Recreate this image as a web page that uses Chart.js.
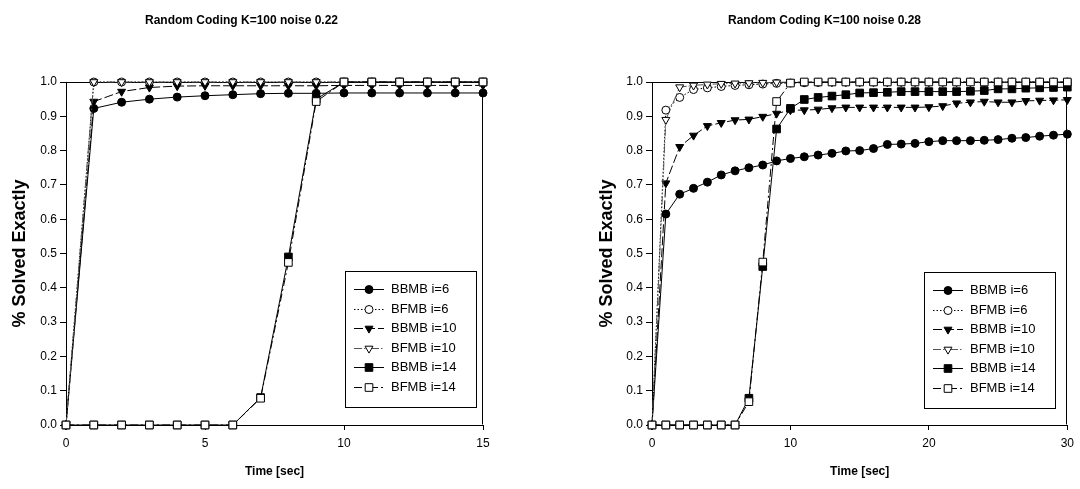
<!DOCTYPE html>
<html>
<head>
<meta charset="utf-8">
<script src="https://cdn.jsdelivr.net/npm/chart.js@4.4.1/dist/chart.umd.min.js"></script>
<style>
html,body{margin:0;padding:0;background:#fff;}
#wrap{position:relative;width:1080px;height:489px;overflow:hidden;}
.c{position:absolute;top:0;width:540px;height:489px;}
</style>
</head>
<body>
<div id="wrap">
  <div class="c" style="left:0"><canvas id="c1" width="540" height="489"></canvas></div>
  <div class="c" style="left:540px"><canvas id="c2" width="540" height="489"></canvas></div>
</div>
<script>
// ---------------- DATA ----------------
const seriesNames = ["BBMB i=6", "BFMB i=6", "BBMB i=10", "BFMB i=10", "BBMB i=14", "BFMB i=14"];
const yAxisTitle = "% Solved Exactly";
const xAxisTitle = "Time [sec]";

// Left panel: noise 0.22
const titleLeft = "Random Coding K=100 noise 0.22";
const timeLeft = [0, 1, 2, 3, 4, 5, 6, 7, 8, 9, 10, 11, 12, 13, 14, 15];
const bbmb6Left  = [0, 0.923, 0.941, 0.950, 0.956, 0.960, 0.963, 0.966, 0.967, 0.967, 0.968, 0.968, 0.968, 0.968, 0.968, 0.968];
const bfmb6Left  = [0, 1, 1, 1, 1, 1, 1, 1, 1, 1, 1, 1, 1, 1, 1, 1];
const bbmb10Left = [0, 0.943, 0.972, 0.984, 0.988, 0.989, 0.989, 0.989, 0.989, 0.989, 0.990, 0.990, 0.990, 0.990, 0.990, 0.990];
const bfmb10Left = [0, 1, 1, 1, 1, 1, 1, 1, 1, 1, 1, 1, 1, 1, 1, 1];
const bbmb14Left = [0, 0, 0, 0, 0, 0, 0, 0.080, 0.490, 0.950, 1, 1, 1, 1, 1, 1];
const bfmb14Left = [0, 0, 0, 0, 0, 0, 0, 0.078, 0.474, 0.943, 1, 1, 1, 1, 1, 1];
const xTicksLeft = [0, 5, 10, 15];

// Right panel: noise 0.28
const titleRight = "Random Coding K=100 noise 0.28";
const timeRight = [0, 1, 2, 3, 4, 5, 6, 7, 8, 9, 10, 11, 12, 13, 14, 15, 16, 17, 18, 19, 20, 21, 22, 23, 24, 25, 26, 27, 28, 29, 30];
const bbmb6Right  = [0, 0.615, 0.673, 0.690, 0.708, 0.729, 0.741, 0.750, 0.758, 0.770, 0.777, 0.782, 0.787, 0.792, 0.799, 0.800, 0.806, 0.818, 0.819, 0.821, 0.826, 0.829, 0.829, 0.829, 0.830, 0.832, 0.836, 0.838, 0.842, 0.845, 0.848];
const bfmb6Right  = [0, 0.918, 0.955, 0.978, 0.983, 0.987, 0.990, 0.992, 0.994, 0.996, 0.997, 0.998, 0.999, 1, 1, 1, 1, 1, 1, 1, 1, 1, 1, 1, 1, 1, 1, 1, 1, 1, 1];
const bbmb10Right = [0, 0.705, 0.811, 0.844, 0.872, 0.881, 0.889, 0.891, 0.899, 0.908, 0.918, 0.918, 0.920, 0.924, 0.926, 0.926, 0.926, 0.926, 0.926, 0.926, 0.927, 0.930, 0.938, 0.941, 0.943, 0.941, 0.941, 0.945, 0.946, 0.947, 0.948];
const bfmb10Right = [0, 0.890, 0.985, 0.990, 0.993, 0.995, 0.996, 0.997, 0.998, 0.999, 1, 1, 1, 1, 1, 1, 1, 1, 1, 1, 1, 1, 1, 1, 1, 1, 1, 1, 1, 1, 1];
const bbmb14Right = [0, 0, 0, 0, 0, 0, 0, 0.078, 0.462, 0.863, 0.923, 0.949, 0.955, 0.959, 0.963, 0.968, 0.969, 0.970, 0.972, 0.972, 0.972, 0.972, 0.972, 0.973, 0.975, 0.980, 0.980, 0.982, 0.983, 0.984, 0.985];
const bfmb14Right = [0, 0, 0, 0, 0, 0, 0, 0.068, 0.475, 0.943, 0.997, 1, 1, 1, 1, 1, 1, 1, 1, 1, 1, 1, 1, 1, 1, 1, 1, 1, 1, 1, 1];
const xTicksRight = [0, 10, 20, 30];

const yTicks = [0, 0.1, 0.2, 0.3, 0.4, 0.5, 0.6, 0.7, 0.8, 0.9, 1.0];

// ---------------- STYLES ----------------
const FONT = "'Liberation Sans', Arial, Helvetica, sans-serif";
Chart.defaults.font.family = FONT;
Chart.defaults.color = '#000';

const seriesStyles = [
  {pointStyle: 'circle',   rotation: 0,   radius: 4.0, fill: '#000', line: '#000', dash: []},
  {pointStyle: 'circle',   rotation: 0,   radius: 4.0, fill: '#fff', line: '#000', dash: [1.5, 2]},
  {pointStyle: 'triangle', rotation: 180, radius: 4.6, fill: '#000', line: '#000', dash: [9, 3]},
  {pointStyle: 'triangle', rotation: 180, radius: 4.6, fill: '#fff', line: '#555', dash: [8, 2, 1.5, 2, 1.5, 2]},
  {pointStyle: 'rect',     rotation: 0,   radius: 5.4, fill: '#000', line: '#000', dash: []},
  {pointStyle: 'rect',     rotation: 0,   radius: 5.4, fill: '#fff', line: '#000', dash: [8, 3, 2, 3]}
];

function buildDatasets(xs, seriesList) {
  return seriesList.map((ys, i) => {
    const s = seriesStyles[i];
    return {
      label: seriesNames[i],
      data: xs.map((x, k) => ({x: x, y: ys[k]})),
      borderColor: s.line,
      borderWidth: 1,
      borderDash: s.dash,
      pointStyle: s.pointStyle,
      pointRotation: s.rotation,
      pointRadius: s.radius,
      pointBackgroundColor: s.fill,
      pointBorderColor: '#000',
      pointBorderWidth: 1,
      pointHoverRadius: s.radius,
      tension: 0,
      fill: false,
      clip: false,
      order: seriesList.length - 1 - i
    };
  });
}

// frame (top + right of the plot box)
const framePlugin = {
  id: 'frame',
  beforeDatasetsDraw(chart) {
    const a = chart.chartArea, ctx = chart.ctx;
    ctx.save();
    ctx.strokeStyle = '#000';
    ctx.lineWidth = 1;
    ctx.setLineDash([]);
    const l = Math.round(a.left) + 0.5, r = Math.round(a.right) - 0.5;
    const t = Math.round(a.top) + 0.5, b = Math.round(a.bottom) - 0.5;
    ctx.beginPath();
    ctx.moveTo(l, t); ctx.lineTo(r, t); ctx.lineTo(r, b);
    ctx.stroke();
    ctx.restore();
  }
};

// boxed legend inside the plot (line + marker samples)
const boxLegendPlugin = {
  id: 'boxLegend',
  afterDatasetsDraw(chart, args, o) {
    const a = chart.chartArea, ctx = chart.ctx;
    const x1 = Math.round(a.right - o.right - o.width);
    const y1 = Math.round(a.bottom - o.bottom - o.height);
    ctx.save();
    ctx.fillStyle = '#fff';
    ctx.fillRect(x1, y1, o.width, o.height);
    ctx.strokeStyle = '#000';
    ctx.lineWidth = 1;
    ctx.setLineDash([]);
    ctx.strokeRect(x1 + 0.5, y1 + 0.5, o.width, o.height);
    chart.data.datasets.forEach((ds, i) => {
      const y = Math.round(y1 + o.first + i * o.step) + 0.5;
      const lx = x1 + o.lineStart;
      ctx.save();
      ctx.strokeStyle = ds.borderColor;
      ctx.lineWidth = 1;
      ctx.setLineDash(ds.borderDash || []);
      ctx.beginPath();
      ctx.moveTo(lx, y);
      ctx.lineTo(lx + o.lineLen, y);
      ctx.stroke();
      ctx.setLineDash([]);
      ctx.fillStyle = ds.pointBackgroundColor;
      ctx.strokeStyle = ds.pointBorderColor;
      ctx.lineWidth = 1;
      Chart.helpers.drawPoint(ctx, {pointStyle: ds.pointStyle, rotation: ds.pointRotation, radius: ds.pointRadius, borderWidth: 1}, lx + o.lineLen / 2, y);
      ctx.restore();
      ctx.fillStyle = '#000';
      ctx.font = o.fontSize + 'px ' + FONT;
      ctx.textBaseline = 'middle';
      ctx.textAlign = 'left';
      ctx.fillText(ds.label, x1 + o.textX, y);
    });
    ctx.restore();
  }
};

function makeChart(id, cfg) {
  const axisLine = {display: true, color: '#000', width: 1};
  return new Chart(document.getElementById(id), {
    type: 'line',
    data: {datasets: buildDatasets(cfg.xs, cfg.series)},
    options: {
      responsive: false,
      animation: false,
      devicePixelRatio: 1,
      events: [],
      layout: {padding: {left: cfg.padLeft, right: cfg.padRight, top: 0, bottom: 0}},
      plugins: {
        legend: {display: false},
        tooltip: {enabled: false},
        title: {
          display: true, text: cfg.title, color: '#000',
          font: {size: 12, weight: 'bold', lineHeight: 1.25},
          padding: {top: 13, bottom: 54}
        },
        boxLegend: cfg.legend
      },
      scales: {
        x: {
          type: 'linear', min: 0, max: cfg.xTicks[cfg.xTicks.length - 1],
          afterBuildTicks: s => { s.ticks = cfg.xTicks.map(v => ({value: v})); },
          ticks: {font: {size: 12}, padding: 6, maxRotation: 0, color: '#000'},
          grid: {display: true, drawOnChartArea: false, drawTicks: true, tickLength: 5, color: '#000', lineWidth: 1},
          border: axisLine,
          title: {display: true, text: xAxisTitle, color: '#000', font: {size: 12, weight: 'bold', lineHeight: 1.2}, padding: {top: 0, bottom: 10}},
          afterFit: s => { s.height = 64; }
        },
        y: {
          type: 'linear', min: 0, max: 1,
          afterBuildTicks: s => { s.ticks = yTicks.map(v => ({value: v})); },
          ticks: {font: {size: 12}, padding: 3, color: '#000', callback: v => Number(v).toFixed(1)},
          grid: {display: true, drawOnChartArea: false, drawTicks: true, tickLength: 6, color: '#000', lineWidth: 1},
          border: axisLine,
          title: {display: true, text: yAxisTitle, color: '#000', font: {size: 18, weight: 'bold', lineHeight: 1.2}, padding: {top: cfg.yTitlePad, bottom: 0}},
          afterFit: s => { s.width = cfg.yWidth; }
        }
      }
    },
    plugins: [framePlugin, boxLegendPlugin]
  });
}

makeChart('c1', {
  title: titleLeft, xs: timeLeft, xTicks: xTicksLeft,
  series: [bbmb6Left, bfmb6Left, bbmb10Left, bfmb10Left, bbmb14Left, bfmb14Left],
  padLeft: 0, padRight: 57, yWidth: 66, yTitlePad: 9,
  legend: {width: 131, height: 136, right: 7, bottom: 18, first: 18, step: 19.6, lineStart: 9, lineLen: 30, textX: 46, fontSize: 13}
});

makeChart('c2', {
  title: titleRight, xs: timeRight, xTicks: xTicksRight,
  series: [bbmb6Right, bfmb6Right, bbmb10Right, bfmb10Right, bbmb14Right, bfmb14Right],
  padLeft: 40, padRight: 11, yWidth: 72, yTitlePad: 16,
  legend: {width: 131, height: 136, right: 12, bottom: 17, first: 18, step: 19.6, lineStart: 9, lineLen: 30, textX: 46, fontSize: 13}
});
</script>
</body>
</html>
